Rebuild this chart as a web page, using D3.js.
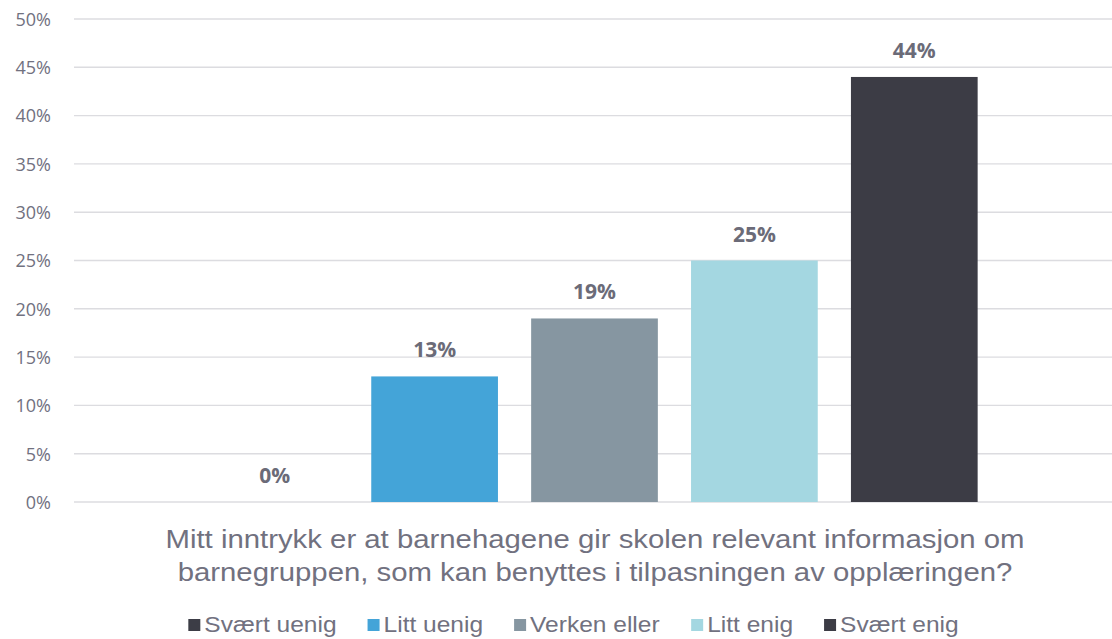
<!DOCTYPE html>
<html><head><meta charset="utf-8">
<script src="https://cdn.jsdelivr.net/npm/d3@7"></script>
<style>body{margin:0;background:#fff;}svg{display:block;}</style>
</head><body>
<svg id="chart" width="1112" height="639"></svg>
<script>
const series = ["Svært uenig","Litt uenig","Verken eller","Litt enig","Svært enig"];
const values = [0, 13, 19, 25, 44];
const colors = ["#3c3d46","#44a4d8","#8696a1","#a4d7e1","#3c3c45"];
const yTicks = [0,5,10,15,20,25,30,35,40,45,50];
const titleLines = ["Mitt inntrykk er at barnehagene gir skolen relevant informasjon om","barnegruppen, som kan benyttes i tilpasningen av opplæringen?"];

const svg = d3.select("#chart");
const textCol = "#71717f";
const y = d3.scaleLinear().domain([0,50]).range([502,19]);
const x = d3.scaleBand().domain(series).range([74,1115]).paddingInner(0.2076).paddingOuter(0.859);

// gridlines
svg.append("g").selectAll("line").data(yTicks).join("line")
  .attr("x1",74).attr("x2",1112)
  .attr("y1",d=>y(d)).attr("y2",d=>y(d))
  .attr("stroke","#dcdce0").attr("stroke-width",1.4);

// y axis labels
const yAxis = d3.axisLeft(y).tickValues(yTicks).tickFormat(d=>d+"%").tickSize(0).tickPadding(0);
const ga = svg.append("g").attr("transform","translate(51,0)").call(yAxis);
ga.select(".domain").remove();
ga.selectAll("text").attr("font-family","'Open Sans'").attr("font-size",18).attr("fill",textCol).attr("dy","0.35em");

// bars
svg.append("g").selectAll("rect").data(values).join("rect")
  .attr("x",(d,i)=>x(series[i])).attr("width",x.bandwidth())
  .attr("y",d=>y(d)).attr("height",d=>y(0)-y(d))
  .attr("fill",(d,i)=>colors[i]);

// data labels
svg.append("g").selectAll("text").data(values).join("text")
  .attr("x",(d,i)=>x(series[i])+x.bandwidth()/2).attr("y",d=>y(d)-19)
  .attr("text-anchor","middle").attr("font-family","'Open Sans'").attr("font-weight","bold")
  .attr("font-size",21).attr("fill","#6b6b78").text(d=>d+"%");

// title (stretched horizontally like the reference)
const titleT = svg.append("g").selectAll("text").data(titleLines).join("text")
  .attr("x",595).attr("y",(d,i)=>548+i*33).attr("text-anchor","middle")
  .attr("font-family","'Liberation Sans', Arial").attr("font-size",25.5).attr("fill",textCol).text(d=>d);
titleT.each(function(){ const w=this.getComputedTextLength(); d3.select(this).attr("textLength",w*1.15).attr("lengthAdjust","spacingAndGlyphs"); });

// legend
const lg = svg.append("g");
const items = lg.selectAll("g").data(series).join("g");
items.append("rect").attr("width",12).attr("height",12).attr("y",619).attr("fill",(d,i)=>colors[i]);
items.append("text").attr("x",16).attr("y",632).attr("font-family","'Liberation Sans', Arial")
  .attr("font-size",22.5).attr("fill",textCol).text(d=>d)
  .each(function(){ const w=this.getComputedTextLength(); d3.select(this).attr("textLength",w*1.09).attr("lengthAdjust","spacingAndGlyphs"); });
let pos = 0; const gap = 31; const xs=[];
items.each(function(){ const w = this.getBBox().width; xs.push(pos); pos += w + gap; });
const total = pos - gap; const start = 573.5 - total/2;
items.attr("transform",(d,i)=>`translate(${start+xs[i]},0)`);
</script>
</body></html>
